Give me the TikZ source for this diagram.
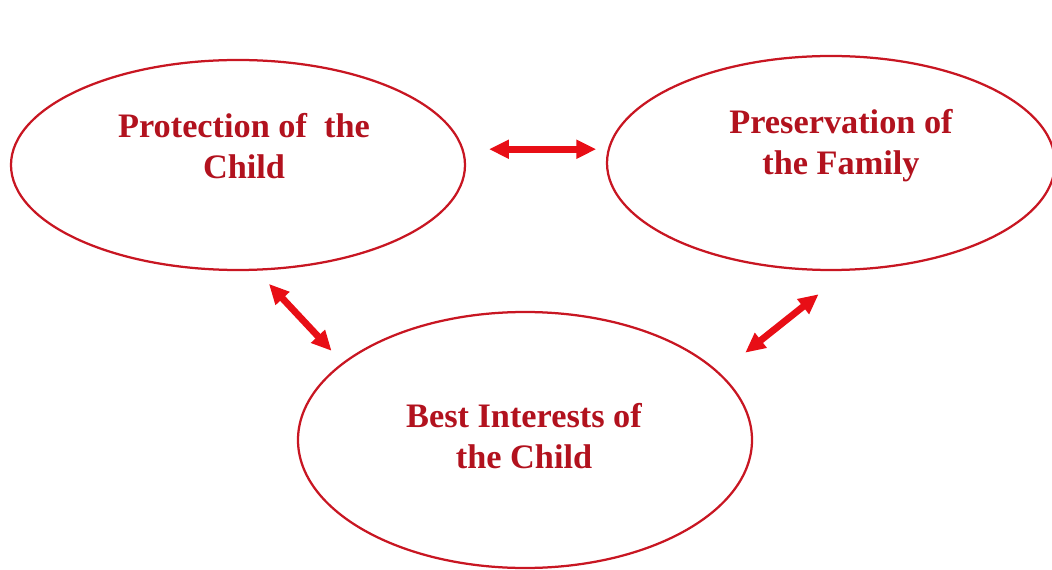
\documentclass[tikz,border=0pt]{standalone}
\usepackage{fontspec}
\setmainfont{Liberation Serif}
\usetikzlibrary{shapes.geometric,arrows.meta}

\definecolor{rimred}{RGB}{200,22,34}
\definecolor{textred}{RGB}{178,18,30}
\definecolor{arrowred}{RGB}{232,14,22}

\begin{document}
\begin{tikzpicture}[
    oval/.style={draw=rimred, line width=1.6pt, ellipse, inner sep=0pt},
    lbl/.style={text=textred, font=\bfseries\fontsize{24.4}{29.2}\selectfont, align=center, inner sep=0pt},
    link/.style={{Triangle[width=0.45cm,length=0.5cm]}-{Triangle[width=0.45cm,length=0.5cm]}, color=arrowred, line width=0.17cm}
]

    \useasboundingbox (0,0) rectangle (26.3,14.225);

    %% Three interests

    % Protection of the child
    \node[oval, minimum width=11.35cm, minimum height=5.25cm] (prot) at (5.95,10.1) {};
    \node[lbl] (prot-t) at ([shift={(0.15,0.475)}]prot.center) {Protection of\ \ the\\Child};

    % Preservation of the family
    \node[oval, minimum width=11.2cm, minimum height=5.35cm] (pres) at (20.775,10.15) {};
    \node[lbl] (pres-t) at ([shift={(0.25,0.425)}]pres.center) {Preservation of\\the Family};

    % Best interests
    \node[oval, minimum width=11.35cm, minimum height=6.4cm] (best) at (13.125,3.225) {};
    \node[lbl] (best-t) at ([shift={(-0.025,0.1)}]best.center) {Best Interests of\\the Child};

    % Links
    \draw[link, shorten <=0.635cm, shorten >=0.24cm] (prot.4.6) -- (prot.4.6 -| pres.west);
    \draw[link, shorten <=0.45cm, shorten >=0.4cm] (prot.-80.5) -- (best.157.25);
    \draw[link, shorten <=0.81cm, shorten >=0.94cm] (best.19.4) -- (pres.-81.2);

\end{tikzpicture}
\end{document}
